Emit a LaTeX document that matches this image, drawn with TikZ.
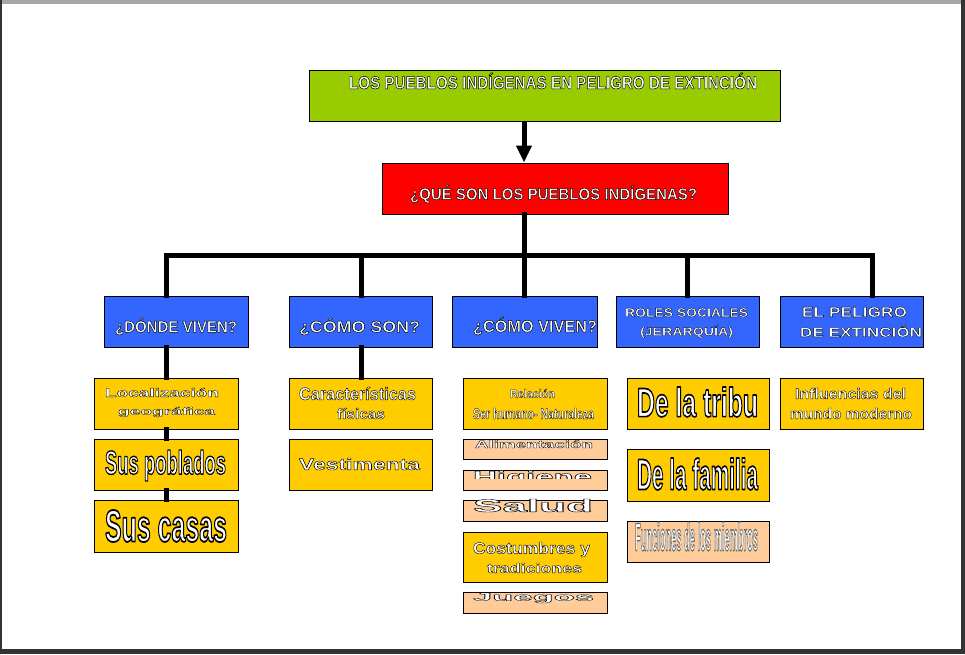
\documentclass[tikz,border=0pt]{standalone}
\usepackage{fontspec}
\setmainfont{Liberation Sans}
\usepackage{graphicx}
\usetikzlibrary{arrows.meta}
\definecolor{tgreen}{HTML}{99CC00}
\definecolor{tred}{HTML}{FF0000}
\definecolor{tblue}{HTML}{3366FF}
\definecolor{tyellow}{HTML}{FFCC00}
\definecolor{tpeach}{HTML}{FFCC99}
\definecolor{tdark}{HTML}{333333}
\newcommand\olt[3]{\special{pdf:literal direct 2 Tr #1 w #2 RG 1 j}#3\special{pdf:literal direct 0 Tr}}
\newcommand\ft[4]{\resizebox*{#1pt}{#2pt}{\olt{#3}{0 0 0}{\bfseries #4}}}
\newcommand\fg[4]{\resizebox*{#1pt}{#2pt}{\olt{#3}{0.4 0.4 0.4}{\bfseries #4}}}
\tikzset{
  box/.style={draw=black, line width=1pt, rectangle, inner sep=0pt},
  txt/.style={text=white, inner sep=0pt, anchor=center},
  conn/.style={draw=black, line width=5pt, line join=miter, line cap=rect},
  arr/.style={draw=black, line width=5pt, -{Triangle[width=15pt,length=17pt]}}
}
\begin{document}
\begin{tikzpicture}[x=1pt,y=-1pt]
\useasboundingbox (0,0) rectangle (965,654);
\fill[white] (0,0) rectangle (965,654);
% frame
\fill[gray!70] (0,0) rectangle (965,4);
\fill[tdark] (0,0) rectangle (2,654);
\fill[tdark] (961,0) rectangle (965,654);
\fill[tdark] (0,649) rectangle (965,654);
% boxes
\node[box, fill=tgreen, minimum width=471pt, minimum height=51pt] (title) at (544.5,95.5) {};
\node[box, fill=tred, minimum width=346pt, minimum height=51pt] (red) at (555,188.5) {};
\node[box, fill=tblue, minimum width=144pt, minimum height=51pt] (b1) at (176,321.5) {};
\node[box, fill=tblue, minimum width=143pt, minimum height=51pt] (b2) at (360.5,321.5) {};
\node[box, fill=tblue, minimum width=145pt, minimum height=51pt] (b3) at (524.5,321.5) {};
\node[box, fill=tblue, minimum width=143pt, minimum height=51pt] (b4) at (687.5,321.5) {};
\node[box, fill=tblue, minimum width=143pt, minimum height=51pt] (b5) at (851.5,321.5) {};
\node[box, fill=tyellow, minimum width=144pt, minimum height=51pt] (y11) at (166,403.5) {};
\node[box, fill=tyellow, minimum width=144pt, minimum height=51pt] (y12) at (166,464.5) {};
\node[box, fill=tyellow, minimum width=144pt, minimum height=52pt] (y13) at (166,526) {};
\node[box, fill=tyellow, minimum width=143pt, minimum height=51pt] (y21) at (360.5,403.5) {};
\node[box, fill=tyellow, minimum width=143pt, minimum height=51pt] (y22) at (360.5,464.5) {};
\node[box, fill=tyellow, minimum width=144pt, minimum height=51pt] (y31) at (535,403.5) {};
\node[box, fill=tpeach, minimum width=144pt, minimum height=20pt] (p32) at (535,449) {};
\node[box, fill=tpeach, minimum width=144pt, minimum height=20pt] (p33) at (535,480) {};
\node[box, fill=tpeach, minimum width=144pt, minimum height=21pt] (p34) at (535,510.5) {};
\node[box, fill=tyellow, minimum width=144pt, minimum height=50pt] (y35) at (535,557) {};
\node[box, fill=tpeach, minimum width=144pt, minimum height=21pt] (p36) at (535,602.5) {};
\node[box, fill=tyellow, minimum width=142pt, minimum height=51pt] (y41) at (698,403.5) {};
\node[box, fill=tyellow, minimum width=142pt, minimum height=52pt] (y42) at (698,475) {};
\node[box, fill=tpeach, minimum width=142pt, minimum height=41pt] (p43) at (698,541.5) {};
\node[box, fill=tyellow, minimum width=143pt, minimum height=51pt] (y51) at (851.5,403.5) {};
% connector coordinates
\coordinate (d1) at (166,255);
\coordinate (d2) at (361,255);
\coordinate (d3) at (524,255);
\coordinate (d4) at (687,255);
\coordinate (d5) at (872,255);
% connectors
\draw[arr] (title.south -| d3) -- (red.north -| d3);
\draw[conn] (red.south -| d3) -- (d3);
\draw[conn] (b1.north -| d1) -- (d1) -- (d5) -- (b5.north -| d5);
\draw[conn] (d2) -- (b2.north -| d2);
\draw[conn] (d3) -- (b3.north -| d3);
\draw[conn] (d4) -- (b4.north -| d4);
\draw[conn] (b1.south -| d1) -- (y11.north -| d1);
\draw[conn] (y11.south -| d1) -- (y12.north -| d1);
\draw[conn] (y12.south -| d1) -- (y13.north -| d1);
\draw[conn] (b2.south -| d2) -- (y21.north -| d2);
% texts
\node[txt] (tt) at (553,81) {\ft{408}{16}{0.3}{LOS PUEBLOS INDÍGENAS EN PELIGRO DE EXTINCIÓN}};
\node[txt] (tr) at (553.5,194) {\ft{287}{18}{0.3}{¿QUÉ SON LOS PUEBLOS INDÍGENAS?}};
\node[txt] (tb1) at (176,326.5) {\ft{122}{17}{0.3}{¿DÓNDE VIVEN?}};
\node[txt] (tb2) at (359.5,326.5) {\ft{121}{17}{0.3}{¿CÓMO SON?}};
\node[txt] (tb3) at (535,326) {\ft{124}{18}{0.3}{¿CÓMO VIVEN?}};
\node[txt] (tb4a) at (686.5,312.5) {\ft{123}{9}{0.25}{ROLES SOCIALES}};
\node[txt] (tb4b) at (686.5,331.5) {\ft{93}{13}{0.25}{(JERARQUÍA)}};
\node[txt] (tb5a) at (854.5,312) {\ft{105}{10}{0.25}{EL PELIGRO}};
\node[txt] (tb5b) at (861,331) {\ft{122}{12}{0.25}{DE EXTINCIÓN}};
\node[txt] (t11a) at (162,392.5) {\ft{114}{9}{0.25}{Localización}};
\node[txt] (t11b) at (166.5,412) {\ft{97}{10}{0.25}{geográfica}};
\node[txt] (t12) at (165.5,465.5) {\ft{121}{31}{0.4}{Sus poblados}};
\node[txt] (t13) at (166,526) {\ft{122}{32}{0.4}{Sus casas}};
\node[txt] (t21a) at (357.5,393.5) {\ft{117}{13}{0.25}{Características}};
\node[txt] (t21b) at (361,413.5) {\ft{48}{11}{0.25}{físicas}};
\node[txt] (t22) at (359.5,464) {\ft{121}{12}{0.25}{Vestimenta}};
\node[txt] (t31a) at (532.5,393.5) {\ft{45}{9}{0.25}{Relación}};
\node[txt] (t31b) at (533.5,413.5) {\ft{121}{11}{0.25}{Ser humano- Naturaleza}};
\node[txt] (t32) at (534,444) {\ft{118}{8}{0.25}{Alimentación}};
\begin{scope}
\clip (463,465) rectangle (607,478.5);
\node[txt] (t33) at (532.5,478) {\ft{119}{15}{0.25}{Higiene}};
\end{scope}
\node[txt] (t34) at (533,505.5) {\ft{120}{13}{0.25}{Salud}};
\node[txt] (t35a) at (531.5,549.5) {\ft{117}{15}{0.25}{Costumbres y}};
\node[txt] (t35b) at (534.5,568) {\ft{95}{10}{0.25}{tradiciones}};
\node[txt] (t36) at (533.5,598) {\ft{121}{10}{0.25}{Juegos}};
\node[txt] (t41) at (697.5,402) {\ft{121}{30}{0.4}{De la tribu}};
\node[txt] (t42) at (697.5,474) {\ft{121}{32}{0.4}{De la familia}};
\node[txt] (t43) at (696.5,536.5) {\fg{123}{29}{0.35}{Funciones de los miembros}};
\node[txt] (t51a) at (850.5,393.5) {\ft{111}{11}{0.25}{Influencias del}};
\node[txt] (t51b) at (851,413.5) {\ft{122}{11}{0.25}{mundo moderno}};
\end{tikzpicture}
\end{document}
